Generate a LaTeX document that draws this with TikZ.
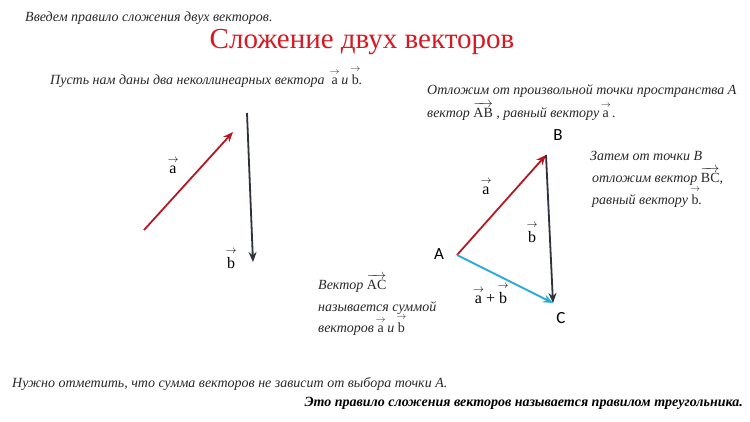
\documentclass[tikz,border=0pt]{standalone}
\usepackage{amsmath}
\usepackage{fontspec}
\setmainfont{Liberation Serif}
\newfontfamily\labfont{Carlito}
\usetikzlibrary{arrows.meta}
\definecolor{vred}{RGB}{180,25,35}
\definecolor{vdark}{RGB}{45,50,60}
\definecolor{vcyan}{RGB}{40,170,220}
\definecolor{tred}{RGB}{215,25,35}
\definecolor{tgray}{RGB}{40,40,40}
\newcommand{\vv}[1]{\ensuremath{\overset{\makebox[0pt]{$\scriptstyle\rightarrow$}}{\mathrm{#1}}}}
\newcommand{\va}{\vv{a}}
\newcommand{\vb}{\vv{b}}
\begin{document}
\begin{tikzpicture}[x=1pt,y=-1pt,
  txt/.style={inner sep=0pt, font=\fontsize{14}{16}\selectfont\itshape, text=tgray},
  vlab/.style={inner sep=0pt, font=\fontsize{16}{18}\selectfont},
  plab/.style={inner sep=0pt, font=\fontsize{17}{19}\selectfont\labfont},
  vec/.style={line width=1.8pt, -{Stealth[length=10pt,width=8pt]}}]
\useasboundingbox (0,0) rectangle (750,421);
\fill[white] (0,0) rectangle (750,421);
% texts
\node[txt, anchor=west] (t1) at (25,18) {Введем правило сложения двух векторов.};
\node[inner sep=0pt, text=tred, font=\fontsize{29}{32}\selectfont] (title) at (362,42) {Сложение двух векторов};
\node[txt, anchor=base west] (t2) at (50,84) {Пусть нам даны два неколлинеарных вектора \ \va{} и \vb.};
\node[txt, anchor=base west] (t3) at (427,94) {Отложим от произвольной точки пространства A};
\node[txt, anchor=base west] (t4) at (427,117) {вектор \(\overrightarrow{\mathrm{AB}}\) , равный вектору \va{} .};
\node[txt, anchor=base west] (t5) at (590,160) {Затем от точки B};
\node[txt, anchor=base west] (t6) at (592,182) {отложим вектор \(\overrightarrow{\mathrm{BC}}\),};
\node[txt, anchor=base west] (t7) at (592,204) {равный вектору \vb.};
\node[txt, anchor=base west] (t8) at (318,289) {Вектор \(\overrightarrow{\mathrm{AC}}\)};
\node[txt, anchor=base west] (t9) at (318,311) {называется суммой};
\node[txt, anchor=base west] (t10) at (318,332) {векторов \va{} и \vb};
\node[txt, anchor=base west] (t11) at (12,387) {Нужно отметить, что сумма векторов не зависит от выбора точки A.};
\node[txt, anchor=base east, font=\fontsize{14}{16}\selectfont\bfseries\itshape, text=black] (t12) at (743,406) {Это правило сложения векторов называется правилом треугольника.};
% left vectors
\coordinate (a0) at (144,230);
\coordinate (a1) at (233,132);
\coordinate (b0) at (247,113);
\coordinate (b1) at (253,262);
\draw[vec, vred] (a0) -- (a1);
\draw[vec, vdark] (b0) -- (b1);
\node[vlab, anchor=base] (la) at (173,173) {\va};
\node[vlab, anchor=base] (lb) at (231,268) {\vb};
% triangle
\coordinate (A) at (457,255);
\coordinate (B) at (546,155);
\coordinate (C) at (553,303);
\draw[vec, vred] (A) -- (B);
\draw[vec, vdark] (B) -- (C);
\draw[vec, vcyan] (A) -- (C);
\node[plab] (nA) at (439,254) {A};
\node[plab] (nB) at (558,135) {B};
\node[plab] (nC) at (561,318) {C};
\node[vlab, anchor=base] (ta) at (486,194) {\va};
\node[vlab, anchor=base] (tb) at (532,242) {\vb};
\node[vlab, anchor=base] (tab) at (491,303) {\va{} + \vb};
\end{tikzpicture}
\end{document}
